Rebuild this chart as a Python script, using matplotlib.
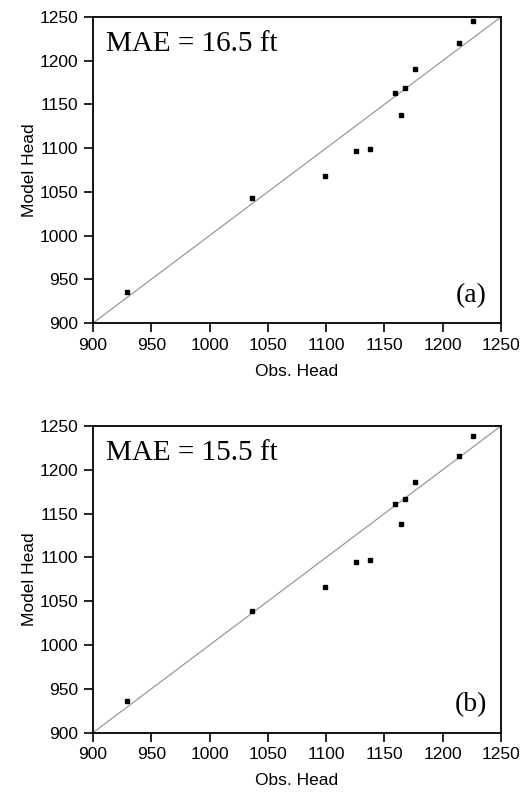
import matplotlib
matplotlib.use("Agg")
import matplotlib.pyplot as plt
import numpy as np

obs_head = [929, 1036, 1099, 1126, 1138, 1159, 1164, 1168, 1176, 1214, 1226]
model_a = [936, 1043, 1068, 1097, 1099, 1163, 1138, 1169, 1190, 1220, 1245]
model_b = [936, 1039, 1066, 1095, 1097, 1161, 1138, 1167, 1186, 1216, 1239]
mae_labels = ["MAE = 16.5 ft", "MAE = 15.5 ft"]
panel_labels = ["(a)", "(b)"]
ticks = [900, 950, 1000, 1050, 1100, 1150, 1200, 1250]

plt.rcParams['font.family'] = ['Liberation Sans', 'DejaVu Sans']

fig = plt.figure(figsize=(5.21, 7.94), dpi=100)
rects = [[0.1785, 0.5932, 0.783, 0.3854], [0.1785, 0.0772, 0.783, 0.3863]]

for rect, model, mae, plab in zip(rects, [model_a, model_b], mae_labels, panel_labels):
    ax = fig.add_axes(rect)
    ax.plot([900, 1250], [900, 1250], color='#999999', lw=0.9, zorder=1)
    ax.plot(obs_head, model, ls='none', marker='s', ms=2.6, color='black', zorder=2)
    ax.set_xlim(900, 1250)
    ax.set_ylim(900, 1250)
    ax.set_xticks(ticks)
    ax.set_yticks(ticks)
    ax.tick_params(direction='out', length=6.5, width=1.2, labelsize=12.5, pad=4, colors='black')
    for sp in ax.spines.values():
        sp.set_linewidth(1.3)
    ax.set_xlabel('Obs. Head', fontsize=12.5, labelpad=8)
    ax.set_ylabel('Model Head', fontsize=12.5, labelpad=2)
    ax.text(0.032, 0.955, mae, transform=ax.transAxes, ha='left', va='top',
            fontsize=21, family=['Liberation Serif', 'DejaVu Serif'])
    ax.text(0.965, 0.05, plab, transform=ax.transAxes, ha='right', va='bottom',
            fontsize=20, family=['Liberation Serif', 'DejaVu Serif'])

fig.savefig('out.png', dpi=100)
